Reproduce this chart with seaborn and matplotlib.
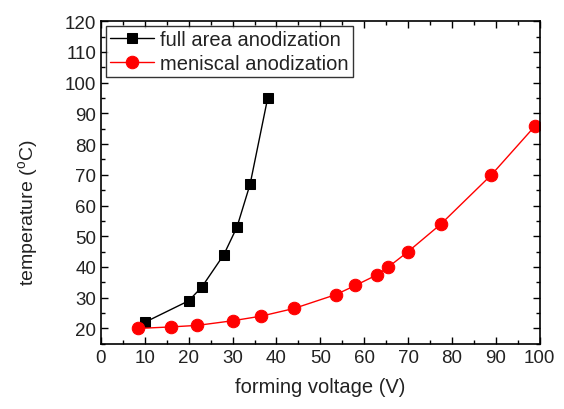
import matplotlib
matplotlib.use("Agg")
import matplotlib.pyplot as plt
import seaborn as sns
import pandas as pd
from matplotlib.ticker import MultipleLocator

full_x = [10, 20, 23, 28, 31, 34, 38]
full_y = [22, 29, 33.5, 44, 53, 67, 95]
men_x = [8.5, 16, 22, 30, 36.5, 44, 53.5, 58, 63, 65.5, 70, 77.5, 89, 99]
men_y = [20, 20.5, 21, 22.5, 24, 26.5, 31, 34, 37.5, 40, 45, 54, 70, 86]

sns.set_style("ticks")
plt.rcParams['font.family'] = ['Liberation Sans', 'DejaVu Sans']
plt.rcParams['mathtext.fontset'] = 'custom'
plt.rcParams['mathtext.rm'] = 'Liberation Sans'
plt.rcParams['mathtext.it'] = 'Liberation Sans'

fig = plt.figure(figsize=(5.64, 4.10), dpi=100)
ax = fig.add_axes([0.179, 0.159, 0.778, 0.787])

df1 = pd.DataFrame({"x": full_x, "y": full_y})
df2 = pd.DataFrame({"x": men_x, "y": men_y})
sns.lineplot(data=df1, x="x", y="y", ax=ax, color="black", marker="s", markersize=7,
             markeredgecolor="black", linewidth=1, label="full area anodization", sort=False)
sns.lineplot(data=df2, x="x", y="y", ax=ax, color="red", marker="o", markersize=9,
             markeredgecolor="red", linewidth=1, label="meniscal anodization", sort=False)

ax.set_xlim(0, 100)
ax.set_ylim(15, 120)
ax.xaxis.set_major_locator(MultipleLocator(10))
ax.xaxis.set_minor_locator(MultipleLocator(5))
ax.yaxis.set_major_locator(MultipleLocator(10))
ax.yaxis.set_minor_locator(MultipleLocator(5))
ax.set_yticks(range(20, 121, 10))
ax.tick_params(which="both", direction="in", top=True, right=True, colors="black",
               labelcolor="#222222", labelsize=13.5)
ax.tick_params(which="major", length=5, width=1)
ax.tick_params(which="minor", length=3, width=1)
for s in ax.spines.values():
    s.set_linewidth(1.2)
    s.set_color("black")

ax.set_xlabel("forming voltage (V)", fontsize=14.5, color="#222222", labelpad=8)
ax.set_ylabel("temperature ($^{o}$C)", fontsize=14, color="#222222")
ax.yaxis.set_label_coords(-0.14, 0.41)

leg = ax.legend(loc="upper left", fontsize=14.5, frameon=True, fancybox=False,
                edgecolor="black", borderpad=0.2, handlelength=2.2, handletextpad=0.3,
                labelspacing=0.25, borderaxespad=0.25)
leg.get_frame().set_linewidth(1)
for t in leg.get_texts():
    t.set_color("#222222")

fig.savefig("out.png", dpi=100)
